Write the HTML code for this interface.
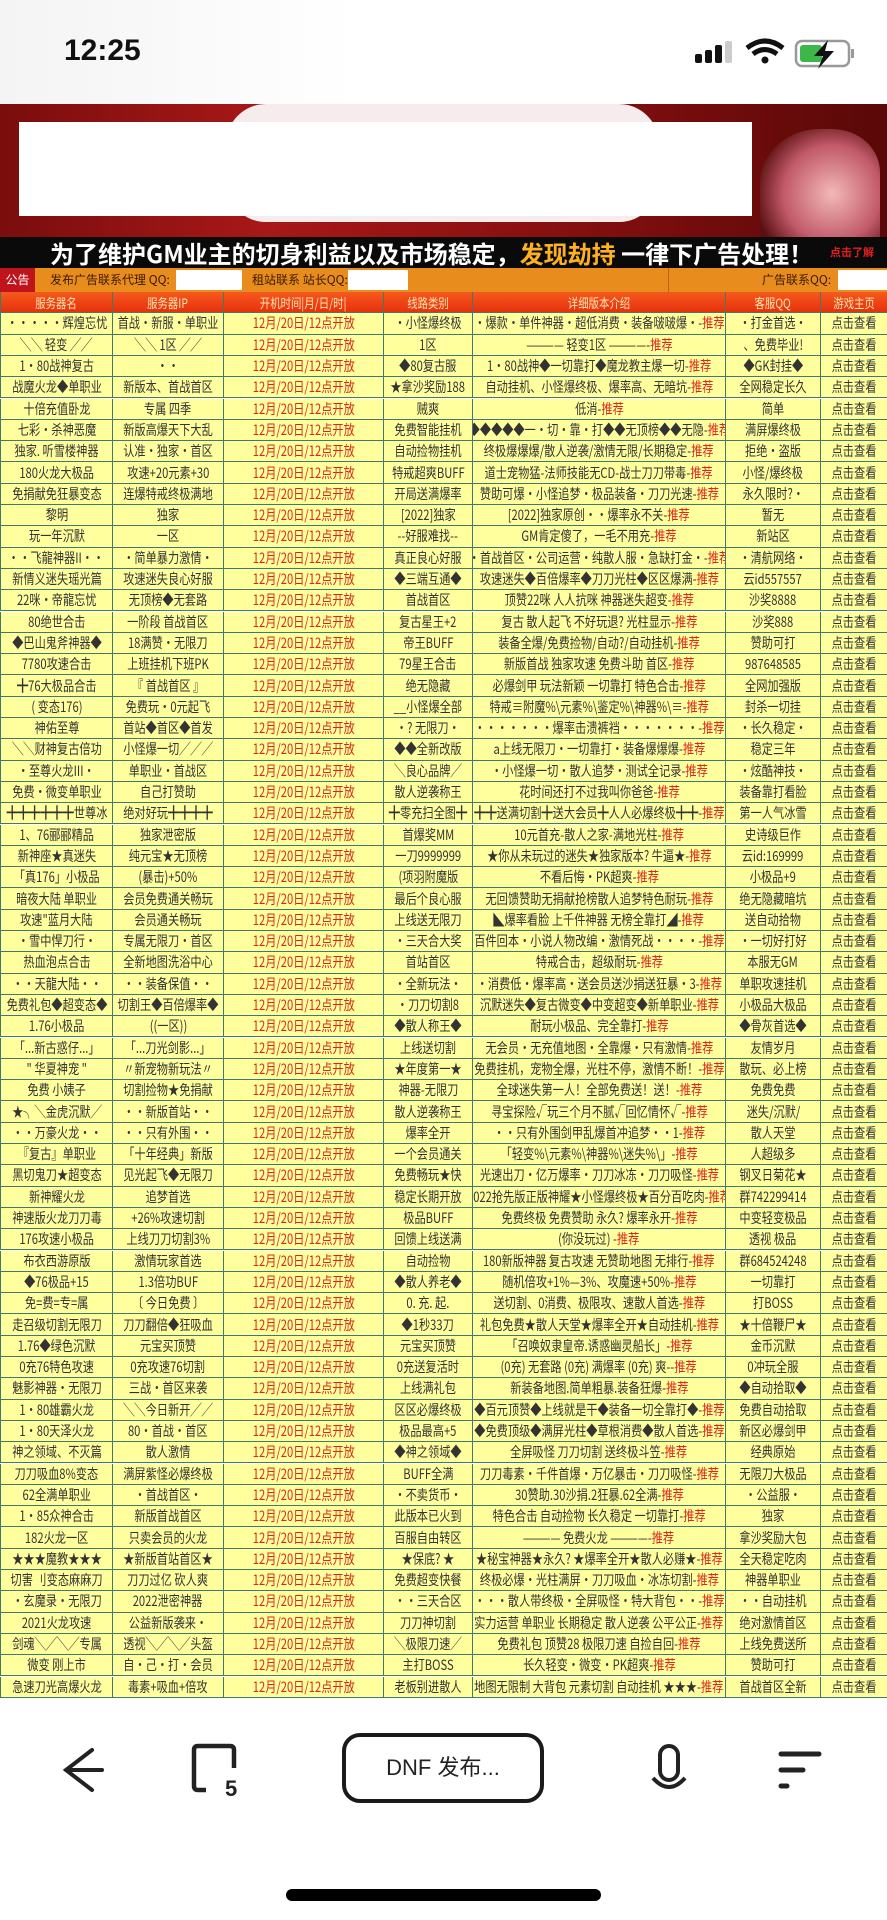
<!DOCTYPE html>
<html><head><meta charset="utf-8">
<style>
*{margin:0;padding:0;box-sizing:border-box}
body{width:887px;height:1920px;background:#fff;position:relative;overflow:hidden;font-family:"Liberation Sans","Noto Sans CJK SC",sans-serif}
.abs{position:absolute}
.row{position:absolute;left:0;width:887px;height:21.3px;background:#ffff9e;border-bottom:1px solid #3f7a6a}
.cell{position:absolute;top:0;height:100%;display:flex;align-items:center;justify-content:center;overflow:hidden;white-space:nowrap;border-left:1px solid #3f7a6a}
.cell span{display:inline-block;font-size:14px;transform:scaleX(.8);color:#333;font-family:"Noto Sans CJK SC","WenQuanYi Zen Hei",sans-serif}
.cell span.t{color:#d8261c}
.red{color:#e0261c}
.hd{background:linear-gradient(#f55a1c,#e8300e)}
.hd span{color:#ffe7b0;font-size:13px}
</style></head><body>
<div class="abs" style="left:0;top:0;width:887px;height:104px;background:linear-gradient(90deg,#f4f4f4,#fff 40%)">
 <div class="abs" style="left:64px;top:34px;font-size:30px;font-weight:bold;color:#111">12:25</div>
 <svg class="abs" style="left:690px;top:38px" width="170" height="34">
  <rect x="5" y="16" width="7" height="9" rx="2" fill="#111"/><rect x="15" y="12" width="7" height="13" rx="2" fill="#111"/><rect x="25" y="7" width="7" height="18" rx="2" fill="#111"/><rect x="35" y="3" width="7" height="22" rx="2" fill="#ccc"/>
  <path d="M57 10 Q75 -4 93 10" stroke="#111" stroke-width="5" fill="none"/><path d="M63 16 Q75 7 87 16" stroke="#111" stroke-width="5" fill="none"/><circle cx="75" cy="22" r="3.5" fill="#111"/>
  <rect x="106" y="3" width="53" height="25" rx="6" fill="none" stroke="#999" stroke-width="2.5"/><rect x="110" y="7" width="22" height="17" rx="3" fill="#3cb84a"/><rect x="161" y="11" width="3" height="9" fill="#999"/>
  <path d="M138 2 L124 18 L133 18 L128 31 L144 13 L135 13 Z" fill="#111"/>
 </svg>
</div>
<div class="abs" style="left:0;top:104px;width:887px;height:133px;background:linear-gradient(90deg,#7a0d0d,#a81818 30%,#8a1010 60%,#5a0808)">
 <div class="abs" style="left:226px;top:0;width:433px;height:118px;border-radius:40px;background:#f6ecee"></div>
 <div class="abs" style="left:19px;top:18px;width:733px;height:94px;background:#fff"></div>
 <div class="abs" style="left:760px;top:25px;width:120px;height:108px;border-radius:50% 40% 0 0;background:radial-gradient(circle at 60% 60%,#f3b8b8,#c25a6a 50%,#5a1010 80%)"></div>
</div>
<div class="abs" style="left:0;top:237px;width:887px;height:31px;background:#0a0a0a;font-family:'Noto Sans CJK SC',sans-serif;font-weight:bold;font-size:24px;line-height:31px;color:#fff;white-space:nowrap">
 <span class="abs" style="left:50px;top:0">为了维护GM业主的切身利益以及市场稳定，<span style="color:#ffb020">发现劫持</span> 一律下广告处理！</span>
 <span class="abs" style="left:830px;top:0;font-size:11px;color:#e02020">点击了解</span>
</div>
<div class="abs" style="left:0;top:268px;width:887px;height:24px;background:#e98c1e;font-family:'Noto Sans CJK SC',sans-serif;font-size:12px;line-height:24px;color:#3a1a00;white-space:nowrap">
 <span class="abs" style="left:0;top:0;width:35px;height:24px;background:#c0141c;color:#fff;text-align:center">公告</span>
 <span class="abs" style="left:50px">发布广告联系代理 QQ:</span>
 <span class="abs" style="left:176px;top:2px;width:66px;height:20px;background:#fff"></span>
 <span class="abs" style="left:252px">租站联系 站长QQ:</span>
 <span class="abs" style="left:348px;top:2px;width:60px;height:20px;background:#fff"></span>
 <span class="abs" style="left:668px;top:0;width:1px;height:24px;background:#c06010"></span>
 <span class="abs" style="left:762px">广告联系QQ:</span>
 <span class="abs" style="left:838px;top:2px;width:49px;height:20px;background:#fff"></span>
</div>
<div id="tbl"></div>
<div class="abs" style="left:0;top:1700px;width:887px;height:220px;background:#fff">
 <svg class="abs" style="left:58px;top:45px" width="50" height="50"><path d="M34 5 L8 25 L34 45 M8 25 L44 25" stroke="#222" stroke-width="4" fill="none" stroke-linecap="round"/></svg>
 <svg class="abs" style="left:190px;top:42px" width="60" height="60"><path d="M16 48 H8 Q4 48 4 44 V8 Q4 4 8 4 H40 Q44 4 44 8 V26" stroke="#222" stroke-width="4.5" fill="none"/><text x="35" y="54" font-size="22" font-weight="bold" fill="#222" font-family="Liberation Sans">5</text></svg>
 <div class="abs" style="left:342px;top:33px;width:202px;height:70px;border:4px solid #1a1a1a;border-radius:18px;text-align:center;line-height:62px;font-size:22px;color:#222;font-family:'Liberation Sans','Noto Sans CJK SC',sans-serif">DNF 发布...</div>
 <svg class="abs" style="left:645px;top:42px" width="50" height="60"><rect x="15" y="4" width="18" height="34" rx="9" fill="none" stroke="#222" stroke-width="4"/><path d="M8 36 Q24 54 40 36" stroke="#222" stroke-width="4" fill="none"/></svg>
 <svg class="abs" style="left:775px;top:50px" width="50" height="50"><path d="M6 4 H44 M6 20 H28 M6 36 H12" stroke="#222" stroke-width="5" stroke-linecap="round"/></svg>
 <div class="abs" style="left:286px;top:189px;width:315px;height:12px;border-radius:6px;background:#000"></div>
</div>
<script>
const colX=[0,112,223,383,472,725,820,887];
const headers=["服务器名","服务器IP","开机时间|月/日/时|","线路类别","详细版本介绍","客服QQ","游戏主页"];
const names=["●●●●●辉煌忘忧","╲╲ 轻变 ╱╱","1·80战神复古","战魔火龙◆单职业","十倍充值卧龙","七彩·杀神恶魔","独家. 听雪楼神器","180火龙大极品","免捐献免狂暴变态","黎明","玩一年沉默","●●飞龍神器II●●","新情义迷失瑶光篇","22咪●帝龍忘忧","80绝世合击","◆巴山鬼斧神器◆","7780攻速合击","╋76大极品合击","( 变态176)","神佑至尊","╲╲财神复古倍功","●至尊火龙III●","免费●微变单职业","╋╋╋╋╋╋世尊冰","1、76郦郦精品","新神座★真迷失","「真176」小极品","暗夜大陆 单职业","攻速\"蓝月大陆","●雪中悍刀行●","热血泡点合击","●●天龍大陆●●","免费礼包◆超变态◆","1.76小极品","「...新古惑仔...」","\" 华夏神宠 \"","免费 小姨子","★╮╲金虎沉默╱","●●万豪火龙●●","『复古』单职业","黑切鬼刀★超变态","新神耀火龙","神速版火龙刀刀毒","176攻速小极品","布衣西游原版","◆76极品+15","免=费=专=属","走召级切割无限刀","1.76◆绿色沉默","0充76特色攻速","魅影神器·无限刀","1·80雄霸火龙","1·80天泽火龙","神之领域、不灭篇","刀刀吸血8%变态","62全满单职业","1●85众神合击","182火龙一区","★★★魔教★★★","切害 刂变态麻麻刀","●玄魔录●无限刀","2021火龙攻速","剑魂╲╱╲╱专属","微变 刚上市","急速刀光高爆火龙"];
const ips=["首战●新服●单职业","╲╲ 1区 ╱╱","··","新版本、首战首区","专属 四季","新版高爆天下大乱","认准·独家·首区","攻速+20元素+30","连爆特戒终极满地","独家","一区","●简单暴力激情●","攻速迷失良心好服","无顶榜◆无套路","一阶段 首战首区","18满赞●无限刀","上班挂机下班PK","『 首战首区 』","免费玩·0元起飞","首站◆首区◆首发","小怪爆一切╱╱╱","单职业●首战区","自己打赞助","绝对好玩╋╋╋╋","独家泄密版","纯元宝★无顶榜","(暴击)+50%","会员免费通关畅玩","会员通关畅玩","专属无限刀●首区","全新地图洗浴中心","●●装备保值●●","切割王◆百倍爆率◆","((一区))","「...刀光剑影...」","〃新宠物新玩法〃","切割捡物★免捐献","●●新版首站●●","●●只有外围●●","「十年经典」新版","见光起飞◆无限刀","追梦首选","+26%攻速切割","上线刀刀切割3%","激情玩家首选","1.3倍功BUF","〔 今日免费 〕","刀刀翻倍◆狂吸血","元宝买顶赞","0充攻速76切割","三战·首区来袭","╲╲今日新开╱╱","80·首战·首区","散人激情","满屏紫怪必爆终极","●首战首区●","新版首战首区","只卖会员的火龙","★新版首站首区★","刀刀过亿 砍人爽","2022泄密神器","公益新版袭来·","透视╲╱╲╱头盔","自·己·打·会员","毒素+吸血+倍攻"];
const lines=["●小怪爆终极","1区","◆80复古服","★拿沙奖励188","贼爽","免费智能挂机","自动捡物挂机","特戒超爽BUFF","开局送满爆率","[2022]独家","--好服难找--","真正良心好服","◆三端互通◆","首战首区","复古星王+2","帝王BUFF","79星王合击","绝无隐藏","__小怪爆全部","●? 无限刀●","◆◆全新改版","╲良心品牌╱","散人逆袭称王","╋零充扫全图╋","首爆奖MM","一刀9999999","(项羽附魔版","最后个良心服","上线送无限刀","●三天合大奖","首站首区","●全新玩法●","●刀刀切割8","◆散人称王◆","上线送切割","★年度第一★","神器-无限刀","散人逆袭称王","爆率全开","一个会员通关","免费畅玩★快","稳定长期开放","极品BUFF","回馈上线送满","自动捡物","◆散人养老◆","0. 充. 起.","◆1秒33刀","元宝买顶赞","0充送复活时","上线满礼包","区区必爆终极","极品最高+5","◆神之领域◆","BUFF全满","●不卖货币●","此版本已火到","百服自由转区","★保底? ★","免费超变快餐","●●三天合区","刀刀神切割","╲极限刀速╱","主打BOSS","老板别进散人"];
const descs=["●爆款●单件神器●超低消费●装备啵啵爆●","———— 轻变1区 ————","1·80战神◆一切靠打◆魔龙教主爆一切","自动挂机、小怪爆终极、爆率高、无暗坑","低消","◆◆◆◆◆一·切·靠·打◆◆无顶榜◆◆无隐","终极爆爆爆/散人逆袭/激情无限/长期稳定","道士宠物猛-法师技能无CD-战士刀刀带毒","赞助可爆●小怪追梦●极品装备●刀刀光速","[2022]独家原创··爆率永不关","GM肯定傻了，一毛不用充","●首战首区●公司运营●纯散人服●急缺打金●","攻速迷失◆百倍爆率◆刀刀光柱◆区区爆满","顶赞22咪 人人抗咪 神器迷失超变","复古 散人起飞 不好玩退? 光柱显示","装备全爆/免费捡物/自动?/自动挂机","新版首战 独家攻速 免费斗助 首区","必爆剑甲 玩法新颖 一切靠打 特色合击","特戒≡附魔%\\元素%\\鉴定%\\神器%\\≡","●●●●●●●爆率击溃裤裆●●●●●●●","a上线无限刀·一切靠打·装备爆爆爆","●小怪爆一切●散人追梦●测试全记录","花时间还打不过我叫你爸爸","╋╋送满切割╋送大会员╋人人必爆终极╋╋","10元首充-散人之家-满地光柱","★你从未玩过的迷失★独家版本? 牛逼★","不看后悔·PK超爽","无回馈赞助无捐献抢榜散人追梦特色耐玩","◣爆率看脸 上千件神器 无榜全靠打◢","百件回本●小说人物改编●激情死战●●●●","特戒合击，超级耐玩","●消费低●爆率高●送会员送沙捐送狂暴●3","沉默迷失◆复古微变◆中变超变◆新单职业","耐玩小极品、完全靠打","无会员●无充值地图●全靠爆●只有激情","免费挂机，宠物全爆，光柱不停，激情不断！","全球迷失第一人！全部免费送！送！","寻宝探险√玩三个月不腻√回忆情怀√","●●只有外围剑甲乱爆首冲追梦●●1","「轻变%\\元素%\\神器%\\迷失%\\」","光速出刀●亿万爆率●刀刀冰冻●刀刀吸怪","2022抢先版正版神耀★小怪爆终极★百分百吃肉","免费终极 免费赞助 永久? 爆率永开","(你没玩过)","180新版神器 复古攻速 无赞助地图 无排行","随机倍攻+1%—3%、攻魔速+50%","送切割、0消费、极限攻、速散人首选","礼包免费★散人天堂★爆率全开★自动挂机","「召唤奴隶皇帝.诱惑幽灵船长」","(0充) 无套路 (0充) 满爆率 (0充) 爽--","新装备地图.简单粗暴.装备狂爆-","◆百元顶赞◆上线就是干◆装备一切全靠打◆","◆免费顶级◆满屏光柱◆草根消费◆散人首选","全屏吸怪 刀刀切割 送终极斗笠","刀刀毒素●千件首爆●万亿暴击●刀刀吸怪","30赞助.30沙捐.2狂暴.62全满","特色合击 自动捡物 长久稳定 一切靠打","———— 免费火龙 ————","★秘宝神器★永久? ★爆率全开★散人必赚★","终极必爆●光柱满屏●刀刀吸血●冰冻切割","●●●散人带终极●全屏吸怪●特大背包●●","实力运营 单职业 长期稳定 散人逆袭 公平公正","免费礼包 顶赞28 极限刀速 自捡自回","长久轻变·微变·PK超爽","地图无限制 大背包 元素切割 自动挂机 ★★★"];
const qqs=["●打金首选●","、免费毕业!","◆GK封挂◆","全网稳定长久","简单","满屏爆终极","拒绝·盗版","小怪/爆终极","永久限时?●","暂无","新站区","●清航网络●","云id557557","沙奖8888","沙奖888","赞助可打","987648585","全网加强版","封杀一切挂","●长久稳定●","稳定三年","●炫酷神技●","装备靠打看脸","第一人气冰雪","史诗级巨作","云id:169999","小极品+9","绝无隐藏暗坑","送自动拾物","●一切好打好","本服无GM","单职攻速挂机","小极品大极品","◆骨灰首选◆","友情岁月","散玩、必上榜","免费免费","迷失/沉默/","散人天堂","人超级多","钢叉日菊花★","群742299414","中变轻变极品","透视 极品","群684524248","一切靠打","打BOSS","★十倍鞭尸★","金币沉默","0冲玩全服","◆自动拾取◆","免费自动拾取","新区必爆剑甲","经典原始","无限刀大极品","●公益服●","独家","拿沙奖励大包","全天稳定吃肉","神器单职业","●●自动挂机","绝对激情首区","上线免费送所","赞助可打","首战首区全新"];
const openTime="12月/20日/12点开放";
const TOP=292, HH=21.3, RH=21.3;
const tbl=document.getElementById('tbl');
function sm(s){return s.replace(/●/g,'•');}
function mkRow(top,cells,cls,name){
  const r=document.createElement('div');
  r.className='row'+(cls?' '+cls:'');
  r.style.top=top+'px';
  
  
  cells.forEach((c,i)=>{
    const d=document.createElement('div');
    d.className='cell';
    d.style.left=colX[i]+'px';
    d.style.width=(colX[i+1]-colX[i])+'px';
    
    
    d.innerHTML=c;
    r.appendChild(d);
  });
  tbl.appendChild(r);
}
mkRow(TOP,headers.map(h=>'<span>'+h+'</span>'),'hd','table-header');
for(let i=0;i<names.length;i++){
  const d=descs[i]==='(你没玩过)'?descs[i]+' -':(descs[i].endsWith('-')?descs[i]:descs[i]+'-');
  mkRow(TOP+HH+i*RH,[
    '<span>'+sm(names[i])+'</span>','<span>'+sm(ips[i])+'</span>','<span class="t">'+openTime+'</span>',
    '<span>'+sm(lines[i])+'</span>','<span>'+sm(d)+'<b class="red" style="font-weight:normal">推荐</b></span>',
    '<span>'+sm(qqs[i])+'</span>','<span>点击查看</span>'],'', 'server-row-'+(i+1));
}
</script>
</body></html>
